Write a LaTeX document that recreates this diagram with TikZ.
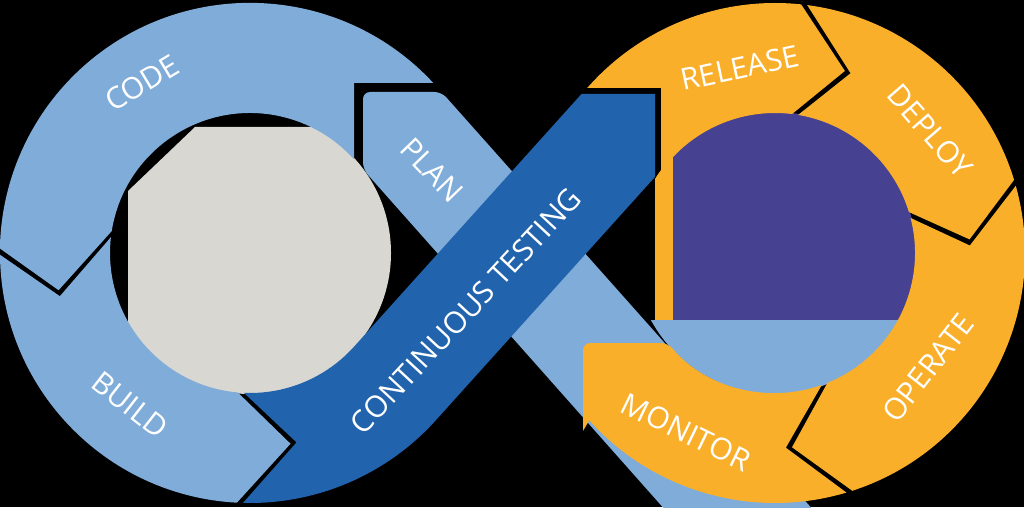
\documentclass[tikz,border=0pt]{standalone}
\usepackage{fontspec}
\setmainfont{Open Sans}
\usepackage{tikz}

\definecolor{loopblue}{HTML}{7FACD9}
\definecolor{testblue}{HTML}{2263AD}
\definecolor{opsorange}{HTML}{F9AF2A}
\definecolor{holegray}{HTML}{D8D7D2}
\definecolor{holepurple}{HTML}{474192}

\begin{document}
\begin{tikzpicture}[
    x=1pt, y=1pt,
    devband/.style={fill=loopblue},
    testband/.style={fill=testblue},
    opsband/.style={fill=opsorange},
    stagetext/.style={text=white, font=\fontsize{30}{30}\selectfont, inner sep=0pt}
]

% Background
\fill[black] (0,0) rectangle (1024,507);
\useasboundingbox (0,0) rectangle (1024,507);

% Ring centres
\coordinate (devc) at (250,254);
\coordinate (opsc) at (775,254);

% Holes of the two rings
\begin{scope}[shift={(devc)}]
  \clip (0,0) circle (141);
  \fill[holegray] (-122,-200) -- (-122,62) -- (-55,126) -- (250,126) -- (250,-200) -- cycle;
\end{scope}
\begin{scope}[shift={(opsc)}]
  \clip (0,0) circle (141);
  \fill[holepurple] (-102,-67) rectangle (200,200);
  \fill[loopblue] (-200,-200) rectangle (200,-67);
  \fill[opsorange] (-120,-67) rectangle (-102,159);
\end{scope}

% Plan band, behind everything
\fill[devband, rounded corners=7] (363,337.7) -- (363,415) -- (441.5,415)
    -- (815,-5) -- (667,-5) -- cycle;

% Left ring: code, build
\begin{scope}[shift={(devc)}]
  \fill[devband] (104,93.7) -- (104,170) -- (183.3,170)
      arc[start angle=42.8, end angle=179, radius=250] -- (191:195)
      -- (171:140) arc[start angle=171, end angle=42, radius=140] -- cycle;
  \fill[devband] (180.4:250) arc[start angle=180.4, end angle=267, radius=250]
      -- (282:195) -- (265:140)
      arc[start angle=265, end angle=173.5, radius=140] -- (192.8:195) -- cycle;
\end{scope}

% Right ring: release, deploy, operate, monitor
\begin{scope}[shift={(opsc)}]
  \fill[opsband] (-187.8,165) -- (-114,165) -- (-114,81.3)
      arc[start angle=144.5, end angle=83, radius=140] -- (69:195)
      -- (84:250) arc[start angle=84, end angle=138.7, radius=250] -- cycle;
  \fill[opsband] (82.6:250) arc[start angle=82.6, end angle=17, radius=250]
      -- (4:195) -- (17:140)
      arc[start angle=17, end angle=80.5, radius=140] -- (67.2:195) -- cycle;
  \fill[opsband] (15.6:250) arc[start angle=15.6, end angle=-72, radius=250]
      -- (-85:195) -- (-68:140)
      arc[start angle=-68, end angle=14.5, radius=140] -- (2.2:195) -- cycle;
  \fill[opsband] (-73.4:250) arc[start angle=-73.4, end angle=-138, radius=250]
      -- (-192,-178) [rounded corners=7] -- (-192,-90) -- (-107.2,-90) [sharp corners]
      arc[start angle=-140, end angle=-70.5, radius=140] -- (-86.8:195) -- cycle;
\end{scope}

% Continuous testing band, in front
\begin{scope}[shift={(devc)}]
  \fill[testband] (267.5:140) arc[start angle=267.5, end angle=318, radius=140]
      -- (331.5,159) -- (405,159) -- (405,76.1) -- (318:250)
      arc[start angle=318, end angle=268.4, radius=250] -- (283.8:195) -- cycle;
\end{scope}

% Stage labels
\node[stagetext, rotate=31]  (code)    at (142,424) {CODE};
\node[stagetext, rotate=-46] (plan)    at (432,337) {PLAN};
\node[stagetext, rotate=-38] (build)   at (130,102) {BUILD};
\node[stagetext, rotate=47]  (testing) at (466,196) {CONTINUOUS TESTING};
\node[stagetext, rotate=12]  (release) at (740,439) {RELEASE};
\node[stagetext, rotate=-49] (deploy)  at (930,376) {DEPLOY};
\node[stagetext, rotate=52]  (operate) at (928,139) {OPERATE};
\node[stagetext, rotate=-26] (monitor) at (686,75)  {MONITOR};

\end{tikzpicture}
\end{document}
